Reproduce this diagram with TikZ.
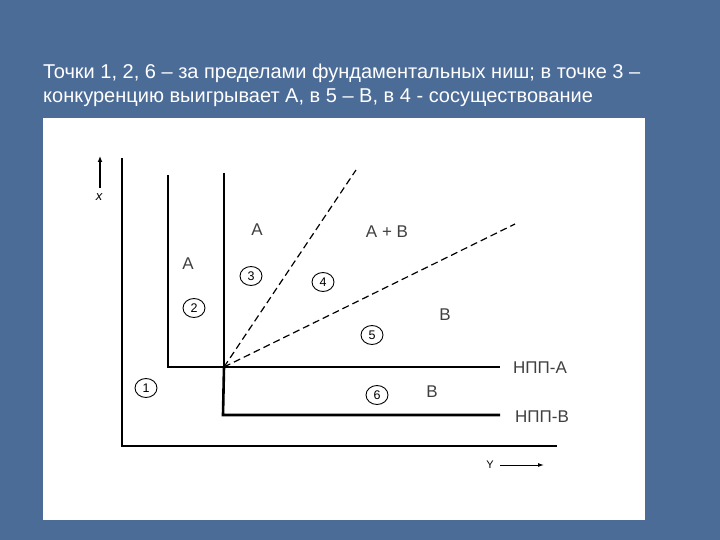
\documentclass[tikz,border=0pt]{standalone}
\usepackage{fontspec}
\setmainfont{Liberation Sans}
\usetikzlibrary{arrows.meta,shapes.geometric}
\definecolor{bgblue}{RGB}{76,108,152}
\begin{document}
\begin{tikzpicture}[x=1pt,y=-1pt,
  thin line/.style={line width=1.3pt},
  thick line/.style={line width=2.6pt},
  dline/.style={line width=1.2pt,dash pattern=on 7pt off 4pt},
  lbl/.style={font=\fontsize{17}{17}\selectfont,text=black!75,inner sep=0pt},
  ttl/.style={anchor=west,text=white,inner sep=0pt,font=\fontsize{20}{20}\selectfont},
  num/.style={draw,ellipse,line width=0.9pt,minimum width=22pt,minimum height=19pt,inner sep=0pt,font=\fontsize{12.5}{12.5}\selectfont}]
\useasboundingbox (0,0) rectangle (720,540);
\fill[bgblue] (0,0) rectangle (720,540);
\node[ttl] (t1) at (43,73) {Точки 1, 2, 6 – за пределами фундаментальных ниш; в точке 3 –};
\node[ttl] (t2) at (43,98) {конкуренцию выигрывает А, в 5 – В, в 4 - сосуществование};
\fill[white] (43,118) rectangle (645,520);
% axes
\coordinate (ytop) at (122,158);
\coordinate (org) at (122,446);
\coordinate (xend) at (557,446);
\draw[thin line] (ytop) -- (org) -- (xend);
\coordinate (xa0) at (100,188);
\coordinate (xa1) at (100,156);
\draw[line width=1.5pt,-{Latex[length=6pt,width=5pt]}] (xa0) -- (xa1);
\node[inner sep=0pt,font=\itshape\fontsize{13}{13}\selectfont] (xl) at (99,197) {x};
\node[inner sep=0pt,font=\fontsize{11}{11}\selectfont] (yl) at (490,465) {Y};
\coordinate (ya0) at (500,465);
\coordinate (ya1) at (544,465);
\draw[line width=1pt,-{Latex[length=6pt,width=4pt]}] (ya0) -- (ya1);
% niches
\coordinate (a1) at (168,175);
\coordinate (a2) at (168,367);
\coordinate (a3) at (500,367);
\draw[thick line] (a1) -- (a2) -- (a3);
\coordinate (b1) at (224,173);
\coordinate (j) at (224,367);
\coordinate (b2) at (223,415);
\coordinate (b3) at (500,415);
\draw[line width=2pt] (b1) -- (j);
\draw[thick line] (j) -- (b2) -- (b3);
% dashed lines
\coordinate (d1) at (356,170);
\coordinate (d2) at (515,224);
\draw[dline] (j) -- (d1);
\draw[dline] (j) -- (d2);
% labels
\node[lbl] (lA1) at (257,230) {A};
\node[lbl] (lAB) at (387,232) {A + B};
\node[lbl] (lA2) at (188,264) {A};
\node[lbl] (lB1) at (445,315) {B};
\node[lbl] (lB2) at (432,392) {B};
\node[lbl,anchor=west] (npa) at (513,368) {НПП-А};
\node[lbl,anchor=west] (npb) at (515,417) {НПП-В};
\node[num] (n1) at (146,388) {1};
\node[num] (n2) at (194,308) {2};
\node[num] (n3) at (251,276) {3};
\node[num] (n4) at (323,282) {4};
\node[num] (n5) at (372,335) {5};
\node[num] (n6) at (377,395) {6};
\end{tikzpicture}
\end{document}
